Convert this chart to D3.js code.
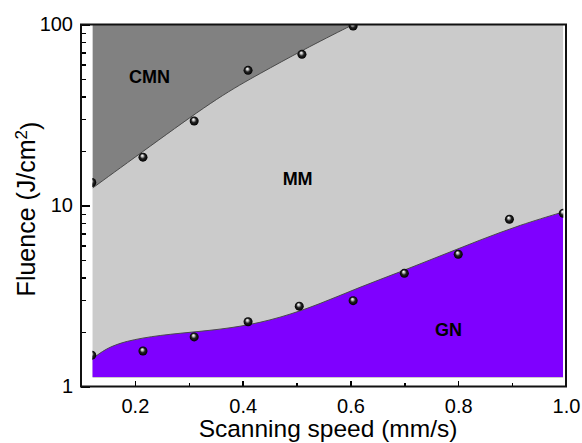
<!DOCTYPE html>
<html lang="en">

<head>
    <meta charset="UTF-8">
    <title>Fluence vs scanning speed</title>
    <style>
        body {
            margin: 0;
            background: #fff;
        }

        svg text {
            font-family: Arial, "Liberation Sans", sans-serif;
            fill: #000;
        }

        .axis path {
            display: none;
        }

        .axis line {
            stroke: #000;
            stroke-width: 1.5;
            shape-rendering: crispEdges;
        }

        .region-label {
            font-weight: bold;
            font-size: 18px;
            text-anchor: middle;
        }
    </style>
</head>

<body>
    <svg class="chart"></svg>
    <script src="https://d3js.org/d3.v7.min.js"></script>
    <script>
        // measured points on the upper (CMN / MM) boundary
        const upperSpeed = [0.12, 0.215, 0.31, 0.41, 0.51, 0.605];
        const upperFluence = [13.4, 18.5, 29.3, 55.8, 68.4, 98];

        // measured points on the lower (MM / GN) boundary
        const lowerSpeed = [0.12, 0.215, 0.31, 0.41, 0.505, 0.605, 0.70, 0.80, 0.895, 0.995];
        const lowerFluence = [1.49, 1.57, 1.88, 2.28, 2.78, 2.98, 4.22, 5.38, 8.39, 9.06];

        // boundary curves
        const upperEdgeSpeed = [0.1217, 0.2466, 0.3579, 0.4321, 0.5101, 0.6028, 0.6362];
        const upperEdgeFluence = [12.5, 23.3, 40.3, 53.6, 71.9, 99.4, 110.7];

        const lowerEdgeSpeed = [0.121, 0.1445, 0.1816, 0.2466, 0.3208, 0.395, 0.4693, 0.5435, 0.6177, 0.692, 0.7662, 0.8404, 0.9146, 0.9944];
        const lowerEdgeFluence = [1.419, 1.611, 1.784, 1.925, 2.013, 2.132, 2.390, 2.856, 3.546, 4.291, 5.260, 6.449, 7.804, 9.207];

        // extent of the shaded map
        const mapSpeed = [0.121, 0.995];
        const mapFluence = [1.113, 100];

        // axes
        const xMajor = [0.2, 0.4, 0.6, 0.8, 1.0];
        const xMinor = [0.3, 0.5, 0.7, 0.9];
        const yMajor = [1, 10, 100];
        const yMinor = [2, 3, 4, 5, 6, 7, 8, 9, 20, 30, 40, 50, 60, 70, 80, 90];

        const regions = [
            { name: "CMN", speed: 0.227, fluence: 47.5 },
            { name: "MM", speed: 0.502, fluence: 12.9 },
            { name: "GN", speed: 0.782, fluence: 1.91 }
        ];

        const W = 582, H = 443;
        const x = d3.scaleLinear().domain([0.1, 1.0]).range([81, 566]);
        const y = d3.scaleLog().domain([1, 100]).range([386.5, 24.5]);

        const svg = d3.select(".chart")
            .attr("width", W)
            .attr("height", H);

        const defs = svg.append("defs");

        const mx0 = x(mapSpeed[0]), mx1 = x(mapSpeed[1]);
        const my0 = y(mapFluence[1]), my1 = y(mapFluence[0]);

        defs.append("clipPath").attr("id", "map-clip")
            .append("rect")
            .attr("x", mx0).attr("y", my0)
            .attr("width", mx1 - mx0).attr("height", my1 - my0);

        let ball = defs.append("radialGradient")
            .attr("id", "ball")
            .attr("cx", "50%").attr("cy", "50%").attr("r", "50%")
            .attr("fx", "40%").attr("fy", "30%");
        ball.append("stop").attr("offset", "0%").attr("stop-color", "#fff");
        ball.append("stop").attr("offset", "25%").attr("stop-color", "#bbb");
        ball.append("stop").attr("offset", "55%").attr("stop-color", "#222");
        ball.append("stop").attr("offset", "100%").attr("stop-color", "#000");

        const upperEdge = upperEdgeSpeed.map((s, i) => [s, upperEdgeFluence[i]]);
        const lowerEdge = lowerEdgeSpeed.map((s, i) => [s, lowerEdgeFluence[i]]);

        const map = svg.append("g").attr("clip-path", "url(#map-clip)");

        // MM background
        map.append("rect")
            .attr("x", mx0).attr("y", my0)
            .attr("width", mx1 - mx0).attr("height", my1 - my0)
            .attr("fill", "#cbcbcb");

        // CMN region above the upper edge
        map.append("path")
            .datum(upperEdge)
            .attr("fill", "#818181")
            .attr("d", d3.area()
                .x(d => x(d[0]))
                .y0(y(200))
                .y1(d => y(d[1]))
                .curve(d3.curveBasis));

        // GN region below the lower edge
        map.append("path")
            .datum(lowerEdge)
            .attr("fill", "#7f00ff")
            .attr("d", d3.area()
                .x(d => x(d[0]))
                .y0(my1 - 1)
                .y1(d => y(d[1]))
                .curve(d3.curveBasis));

        let edgeLine = d3.line()
            .x(d => x(d[0]))
            .y(d => y(d[1]))
            .curve(d3.curveBasis);

        [upperEdge, lowerEdge].forEach(e => {
            map.append("path")
                .datum(e)
                .attr("fill", "none")
                .attr("stroke", "#4a4a4a")
                .attr("stroke-width", 1)
                .attr("d", edgeLine);
        });

        // measured points
        const pts = upperSpeed.map((s, i) => [s, upperFluence[i]])
            .concat(lowerSpeed.map((s, i) => [s, lowerFluence[i]]));

        map.selectAll(".pt")
            .data(pts)
            .enter().append("circle")
            .attr("class", "pt")
            .attr("cx", d => x(d[0]))
            .attr("cy", d => y(d[1]))
            .attr("r", 4.5)
            .attr("fill", "url(#ball)");

        // region names
        svg.selectAll(".region-label")
            .data(regions)
            .enter().append("text")
            .attr("class", "region-label")
            .attr("x", d => x(d.speed))
            .attr("y", d => y(d.fluence))
            .text(d => d.name);

        // axes, ticks pointing inwards
        svg.append("g")
            .attr("class", "axis")
            .attr("transform", `translate(0,${y(1)})`)
            .call(d3.axisBottom(x).tickValues(xMajor).tickSize(-6).tickPadding(12)
                .tickFormat(d3.format(".1f")))
            .selectAll("text")
            .style("font-size", "20px");

        svg.append("g")
            .attr("class", "axis")
            .attr("transform", `translate(0,${y(1)})`)
            .call(d3.axisBottom(x).tickValues(xMinor).tickSize(-4).tickFormat(""));

        svg.append("g")
            .attr("class", "axis")
            .attr("transform", `translate(${x(0.1)},0)`)
            .call(d3.axisLeft(y).tickValues(yMajor).tickSize(-9).tickPadding(8)
                .tickFormat(d3.format("d")))
            .selectAll("text")
            .style("font-size", "20px");

        svg.append("g")
            .attr("class", "axis")
            .attr("transform", `translate(${x(0.1)},0)`)
            .call(d3.axisLeft(y).tickValues(yMinor).tickSize(-5).tickFormat(""));

        // frame
        svg.append("rect")
            .attr("x", x(0.1)).attr("y", y(100))
            .attr("width", x(1.0) - x(0.1))
            .attr("height", y(1) - y(100))
            .attr("fill", "none")
            .attr("stroke", "#111")
            .attr("stroke-width", 2);

        // axis titles
        svg.append("text")
            .attr("x", 328)
            .attr("y", 437)
            .attr("text-anchor", "middle")
            .style("font-size", "24.5px")
            .text("Scanning speed (mm/s)");

        let yTitle = svg.append("text")
            .attr("transform", `translate(35,209) rotate(-90)`)
            .attr("text-anchor", "middle")
            .style("font-size", "25px");
        yTitle.append("tspan").text("Fluence (J/cm");
        yTitle.append("tspan").attr("dy", "-0.45em").style("font-size", "17px").text("2");
        yTitle.append("tspan").attr("dy", "0.45em").text(")");
    </script>
</body>

</html>
